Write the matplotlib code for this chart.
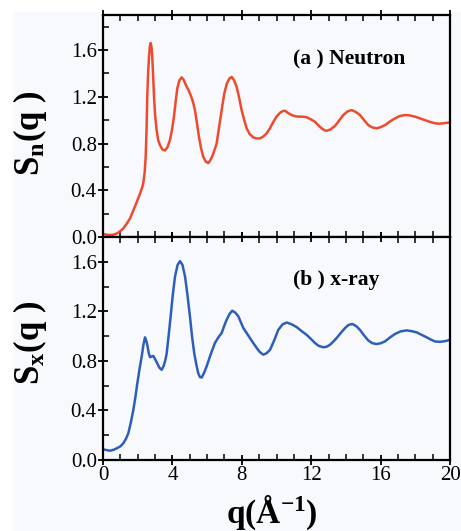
import matplotlib
matplotlib.use("Agg")
import matplotlib.pyplot as plt
from matplotlib.ticker import MultipleLocator
from matplotlib.patches import Rectangle

plt.rcParams["font.family"] = ["Liberation Serif", "DejaVu Serif"]
plt.rcParams["mathtext.fontset"] = "custom"
plt.rcParams["mathtext.rm"] = "Liberation Serif:bold"
plt.rcParams["mathtext.bf"] = "Liberation Serif:bold"
plt.rcParams["mathtext.default"] = "bf"

# --------- data ---------
q_neutron = [0.0, 0.2, 0.4, 0.6, 0.79, 1.0, 1.17, 1.35, 1.56, 1.7, 1.84, 2.0, 2.13,
             2.25, 2.32, 2.4, 2.46, 2.51, 2.55, 2.6, 2.65, 2.7, 2.75, 2.8, 2.84,
             2.89, 2.94, 3.0, 3.09, 3.18, 3.28, 3.42, 3.57, 3.72, 3.86, 3.98,
             4.09, 4.18, 4.28, 4.4, 4.53, 4.65, 4.78, 4.92, 5.05, 5.18, 5.3,
             5.42, 5.53, 5.65, 5.78, 5.92, 6.07, 6.2, 6.35, 6.55, 6.7, 6.84,
             6.98, 7.13, 7.28, 7.42, 7.56, 7.7, 7.85, 7.99, 8.14, 8.28, 8.46,
             8.66, 8.85, 9.05, 9.24, 9.43, 9.62, 9.82, 10.0, 10.2, 10.35, 10.49,
             10.68, 10.87, 11.05, 11.25, 11.5, 11.74, 12.0, 12.22, 12.42, 12.6,
             12.75, 12.89, 13.1, 13.37, 13.6, 13.85, 14.1, 14.33, 14.57, 14.81,
             15.05, 15.29, 15.52, 15.77, 16.0, 16.26, 16.55, 16.83, 17.1, 17.41,
             17.7, 17.98, 18.27, 18.56, 18.85, 19.14, 19.38, 19.62, 19.8, 20.0]
s_neutron = [0.026, 0.02, 0.017, 0.02, 0.03, 0.05, 0.074, 0.11, 0.16, 0.21, 0.26, 0.32, 0.37,
             0.42, 0.46, 0.55, 0.69, 0.92, 1.2, 1.4, 1.54, 1.63, 1.66, 1.62, 1.54,
             1.38, 1.2, 1.05, 0.915, 0.83, 0.787, 0.75, 0.74, 0.77, 0.83, 0.92,
             1.03, 1.15, 1.27, 1.34, 1.366, 1.345, 1.3, 1.26, 1.215, 1.16, 1.086,
             0.97, 0.858, 0.76, 0.687, 0.645, 0.633, 0.66, 0.71, 0.8, 0.95, 1.086,
             1.22, 1.31, 1.355, 1.37, 1.34, 1.286, 1.19, 1.086, 1.0, 0.93, 0.88,
             0.853, 0.843, 0.844, 0.86, 0.887, 0.93, 0.986, 1.03, 1.063, 1.077, 1.08,
             1.06, 1.044, 1.035, 1.03, 1.03, 1.025, 1.005, 0.986, 0.955, 0.93,
             0.915, 0.909, 0.92, 0.95, 0.995, 1.044, 1.075, 1.086, 1.07, 1.044,
             1.0, 0.958, 0.938, 0.93, 0.94, 0.958, 0.99, 1.015, 1.035, 1.044,
             1.04, 1.03, 1.015, 1.0, 0.985, 0.973, 0.97, 0.973, 0.977, 0.98]

q_xray = [0.0, 0.2, 0.4, 0.6, 0.79, 1.0, 1.17, 1.32, 1.46, 1.6, 1.75, 1.87, 1.98,
          2.1, 2.23, 2.33, 2.42, 2.5, 2.57, 2.64, 2.71, 2.8, 2.9, 3.0, 3.13,
          3.25, 3.38, 3.5, 3.6, 3.67, 3.78, 3.9, 4.02, 4.15, 4.3, 4.44, 4.58,
          4.73, 4.87, 5.01, 5.13, 5.26, 5.38, 5.49, 5.59, 5.69, 5.83, 5.97,
          6.2, 6.45, 6.65, 6.84, 6.98, 7.13, 7.3, 7.45, 7.62, 7.8, 7.95, 8.09,
          8.28, 8.47, 8.66, 8.86, 9.05, 9.24, 9.43, 9.63, 9.85, 10.1, 10.35,
          10.59, 10.88, 11.16, 11.45, 11.74, 12.0, 12.22, 12.45, 12.7, 12.9,
          13.08, 13.27, 13.47, 13.7, 13.95, 14.15, 14.37, 14.6, 14.81, 15.05,
          15.29, 15.52, 15.77, 16.0, 16.26, 16.55, 16.83, 17.15, 17.5, 17.8,
          18.08, 18.37, 18.66, 18.9, 19.14, 19.38, 19.62, 19.8, 20.0]
s_xray = [0.087, 0.08, 0.075, 0.082, 0.094, 0.11, 0.135, 0.17, 0.216, 0.3, 0.405, 0.51, 0.62,
          0.73, 0.836, 0.93, 0.99, 0.96, 0.917, 0.86, 0.83, 0.835, 0.84, 0.815, 0.78,
          0.745, 0.728, 0.76, 0.81, 0.86, 1.0, 1.16, 1.33, 1.48, 1.575, 1.605, 1.575,
          1.48, 1.33, 1.16, 1.0, 0.86, 0.77, 0.7, 0.669, 0.666, 0.705, 0.755,
          0.85, 0.944, 0.99, 1.025, 1.08, 1.133, 1.18, 1.205, 1.19, 1.16, 1.11, 1.065,
          1.025, 0.984, 0.944, 0.904, 0.87, 0.85, 0.862, 0.89, 0.96, 1.05, 1.095,
          1.11, 1.095, 1.073, 1.04, 1.01, 0.975, 0.944, 0.92, 0.91, 0.915,
          0.93, 0.955, 0.985, 1.025, 1.065, 1.09, 1.098, 1.08, 1.05, 1.005,
          0.965, 0.943, 0.936, 0.942, 0.958, 0.99, 1.017, 1.038, 1.046, 1.04,
          1.03, 1.01, 0.99, 0.972, 0.957, 0.954, 0.957, 0.962, 0.97]

panels = [
    (q_neutron, s_neutron, "#ef4a2e", r"S$_{n}$(q )", "(a ) Neutron", 1.9, 1.52),
    (q_xray, s_xray, "#2e5fb8", r"S$_{x}$(q )", "(b ) x-ray", 1.8, 1.456),
]

# --------- plotting ---------
W, H = 461, 531
fig = plt.figure(figsize=(W / 100, H / 100), dpi=100, facecolor="white")
fig.patches.append(Rectangle((13 / W, 0), 1, 1 - 12 / H, transform=fig.transFigure,
                             facecolor="#f8f9fd", edgecolor="none", zorder=-10))

left, right = 103 / W, 450 / W
bounds = [(15, 237), (237, 460)]
label_y = [133, 343]

for i, (q, s, color, ylab, tag, ytop, tag_y) in enumerate(panels):
    top, bot = bounds[i]
    ax = fig.add_axes([left, 1 - bot / H, right - left, (bot - top) / H])
    ax.set_facecolor("#f8f9fd")
    ax.plot(q, s, color=color, lw=1.8, solid_joinstyle="round")
    ax.set_xlim(0, 20)
    ax.set_ylim(0, ytop)
    ax.xaxis.set_major_locator(MultipleLocator(4))
    ax.xaxis.set_minor_locator(MultipleLocator(1))
    ax.yaxis.set_major_locator(MultipleLocator(0.4))
    ax.yaxis.set_minor_locator(MultipleLocator(0.2))
    ax.yaxis.set_major_formatter(plt.FormatStrFormatter("%.1f"))
    ax.tick_params(which="major", direction="inout", length=7, width=1.3,
                   top=True, right=False, labelsize=15, pad=1)
    ax.tick_params(which="minor", direction="in", length=4, width=1.1,
                   top=True, right=False)
    for sp in ax.spines.values():
        sp.set_linewidth(1.6)
    if i == 0:
        ax.tick_params(labelbottom=False)
    ax.text(10.95, tag_y, tag, fontsize=15.5, fontweight="bold",
            va="center", ha="left")
    fig.text(30 / W, 1 - label_y[i] / H, ylab, rotation=90, fontsize=25,
             fontweight="bold", ha="center", va="center")

fig.text(272 / W, 1 - 513 / H, r"q(Å$^{-1}$)", fontsize=24, fontweight="bold",
         ha="center", va="center")

fig.savefig("out.png", dpi=100, facecolor=fig.get_facecolor())
